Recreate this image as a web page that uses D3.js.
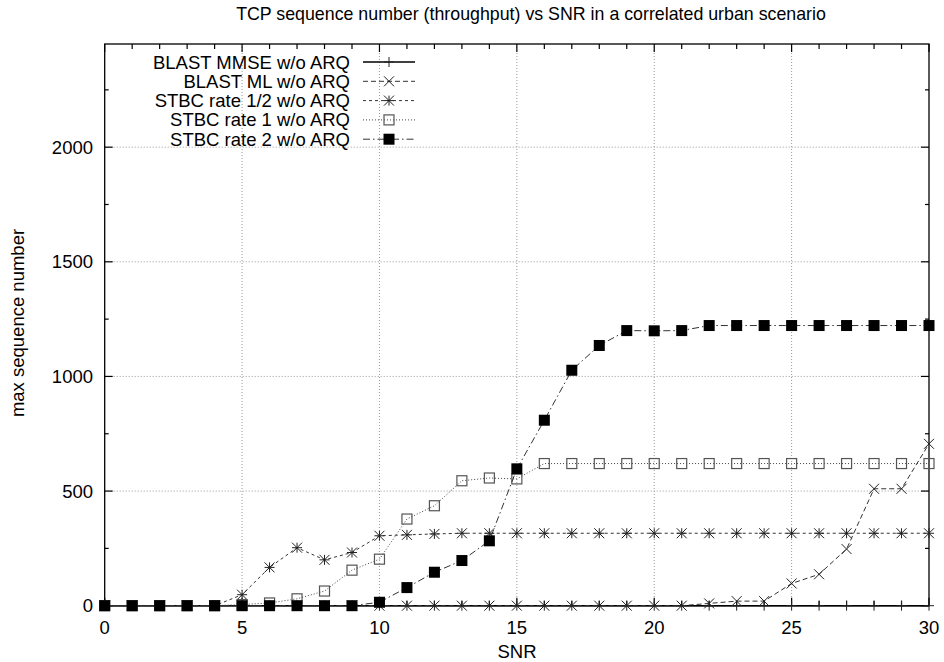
<!DOCTYPE html>
<html lang="en">
<head>
<meta charset="utf-8">
<title>TCP sequence number vs SNR</title>
<style>
  body { margin: 0; background: #fff; }
  text { font-family: "Liberation Sans", Arial, sans-serif; fill: #000; }
</style>
</head>
<body>
<svg width="944" height="662"></svg>
<script src="https://d3js.org/d3.v7.min.js"></script>
<script>
// SNR values 0..30
var snr = [0,1,2,3,4,5,6,7,8,9,10,11,12,13,14,15,16,17,18,19,20,21,22,23,24,25,26,27,28,29,30];

var blastMmse = [0,0,0,0,0,0,0,0,0,0,0,0,0,0,0,0,0,0,0,0,0,0,0,0,0,0,0,0,0,0,0];
var blastMl   = [0,0,0,0,0,0,0,0,0,0,0,0,0,0,0,0,0,0,0,0,0,0,10,20,20,97,137,247,510,510,706];
var stbcHalf  = [0,0,0,0,0,48,167,253,200,232,305,309,313,316,316,316,316,316,316,316,316,316,316,316,316,316,316,316,316,316,316];
var stbcOne   = [0,0,0,0,0,5,12,30,64,155,203,378,436,545,557,553,620,620,620,620,620,620,620,620,620,620,620,620,620,620,620];
var stbcTwo   = [0,0,0,0,0,0,0,0,0,0,15,79,146,197,283,597,809,1027,1135,1200,1199,1200,1222,1222,1222,1222,1222,1222,1222,1222,1222];

var seriesNames = ["BLAST MMSE w/o ARQ", "BLAST ML w/o ARQ", "STBC rate 1/2 w/o ARQ", "STBC rate 1 w/o ARQ", "STBC rate 2 w/o ARQ"];
var xTicks = [0, 5, 10, 15, 20, 25, 30];
var yTicks = [0, 500, 1000, 1500, 2000];

var svg = d3.select("svg");
var plotL = 104.7, plotR = 929, plotT = 44, plotB = 605.7;

var x = d3.scaleLinear().domain([0, 30]).range([plotL, plotR]);
var y = d3.scaleLinear().domain([0, 2450]).range([plotB, plotT]);

// grid
var grid = svg.append("g").attr("stroke", "#999").attr("stroke-width", 1).attr("stroke-dasharray", "1,2");
grid.selectAll(".gx").data(xTicks.filter(function(d) { return d > 0 && d < 30; }))
  .enter().append("line")
  .attr("x1", function(d) { return x(d); }).attr("x2", function(d) { return x(d); })
  .attr("y1", plotT).attr("y2", plotB);
grid.selectAll(".gy").data(yTicks.filter(function(d) { return d > 0; }))
  .enter().append("line")
  .attr("y1", function(d) { return y(d); }).attr("y2", function(d) { return y(d); })
  .attr("x1", plotL).attr("x2", plotR);

// axes (gnuplot style: inward ticks, mirrored)
var xMinor = d3.range(0, 31, 1);
var yMinor = d3.range(0, 2451, 250);
function isMajorX(d) { return d % 5 === 0; }
function isMajorY(d) { return d % 500 === 0; }

var ticks = svg.append("g").attr("stroke", "#000").attr("stroke-width", 1.2);
xMinor.forEach(function(d) {
  var len = isMajorX(d) ? 8 : 5;
  ticks.append("line").attr("x1", x(d)).attr("x2", x(d)).attr("y1", plotB).attr("y2", plotB - len);
  ticks.append("line").attr("x1", x(d)).attr("x2", x(d)).attr("y1", plotT).attr("y2", plotT + len);
});
yMinor.forEach(function(d) {
  var len = isMajorY(d) ? 8 : 4;
  ticks.append("line").attr("y1", y(d)).attr("y2", y(d)).attr("x1", plotL).attr("x2", plotL + len);
  ticks.append("line").attr("y1", y(d)).attr("y2", y(d)).attr("x1", plotR).attr("x2", plotR - len);
});

svg.append("rect")
  .attr("x", plotL).attr("y", plotT)
  .attr("width", plotR - plotL).attr("height", plotB - plotT)
  .attr("fill", "none").attr("stroke", "#000").attr("stroke-width", 1.3);

svg.append("g").selectAll("text").data(xTicks).enter().append("text")
  .attr("x", function(d) { return x(d); }).attr("y", 634)
  .attr("text-anchor", "middle").attr("font-size", 18.5)
  .text(function(d) { return d; });

svg.append("g").selectAll("text").data(yTicks).enter().append("text")
  .attr("x", 93).attr("y", function(d) { return y(d) + 6.5; })
  .attr("text-anchor", "end").attr("font-size", 18.5)
  .text(function(d) { return d; });

svg.append("text").attr("x", 517).attr("y", 658).attr("text-anchor", "middle")
  .attr("font-size", 18.5).text("SNR");
svg.append("text").attr("transform", "translate(24,323) rotate(-90)").attr("text-anchor", "middle")
  .attr("font-size", 18.5).text("max sequence number");
svg.append("text").attr("x", 531).attr("y", 20).attr("text-anchor", "middle")
  .attr("font-size", 17.8).text("TCP sequence number (throughput) vs SNR in a correlated urban scenario");

// markers
function drawMarker(g, type, cx, cy) {
  var s = 5;
  if (type === "plus" || type === "star") {
    g.append("path").attr("d", "M" + (cx - s) + "," + cy + "H" + (cx + s) + "M" + cx + "," + (cy - s) + "V" + (cy + s))
      .attr("stroke", "#222").attr("stroke-width", 1).attr("fill", "none");
  }
  if (type === "cross" || type === "star") {
    g.append("path").attr("d", "M" + (cx - s) + "," + (cy - s) + "L" + (cx + s) + "," + (cy + s) + "M" + (cx - s) + "," + (cy + s) + "L" + (cx + s) + "," + (cy - s))
      .attr("stroke", "#222").attr("stroke-width", 1).attr("fill", "none");
  }
  if (type === "box") {
    g.append("rect").attr("x", cx - 5).attr("y", cy - 5).attr("width", 10).attr("height", 10)
      .attr("fill", "none").attr("stroke", "#555").attr("stroke-width", 1.2);
  }
  if (type === "fbox") {
    g.append("rect").attr("x", cx - 5.5).attr("y", cy - 5.5).attr("width", 11).attr("height", 11)
      .attr("fill", "#000");
  }
}

var series = [
  { values: blastMmse, dash: null, marker: "plus", color: "#000", width: 1.4 },
  { values: blastMl, dash: "5,3", marker: "cross", color: "#333", width: 1 },
  { values: stbcHalf, dash: "3,3", marker: "star", color: "#333", width: 1 },
  { values: stbcOne, dash: "1,2", marker: "box", color: "#444", width: 1 },
  { values: stbcTwo, dash: "7,3,1.5,3", marker: "fbox", color: "#333", width: 1 }
];

var line = d3.line().x(function(d, i) { return x(snr[i]); }).y(function(d) { return y(d); });

series.forEach(function(s, k) {
  var g = svg.append("g");
  g.append("path").attr("d", line(s.values))
    .attr("fill", "none").attr("stroke", s.color).attr("stroke-width", s.width)
    .attr("stroke-dasharray", s.dash);
  s.values.forEach(function(v, i) { drawMarker(g, s.marker, x(snr[i]), y(v)); });

  // legend entry
  var ly = 62 + k * 19.3;
  var lg = svg.append("g");
  lg.append("text").attr("x", 350).attr("y", ly + 6.5).attr("text-anchor", "end")
    .attr("font-size", 18.5).text(seriesNames[k]);
  lg.append("line").attr("x1", 363).attr("x2", 415).attr("y1", ly).attr("y2", ly)
    .attr("stroke", s.color).attr("stroke-width", s.width).attr("stroke-dasharray", s.dash);
  drawMarker(lg, s.marker, 389, ly);
});
</script>
</body>
</html>
